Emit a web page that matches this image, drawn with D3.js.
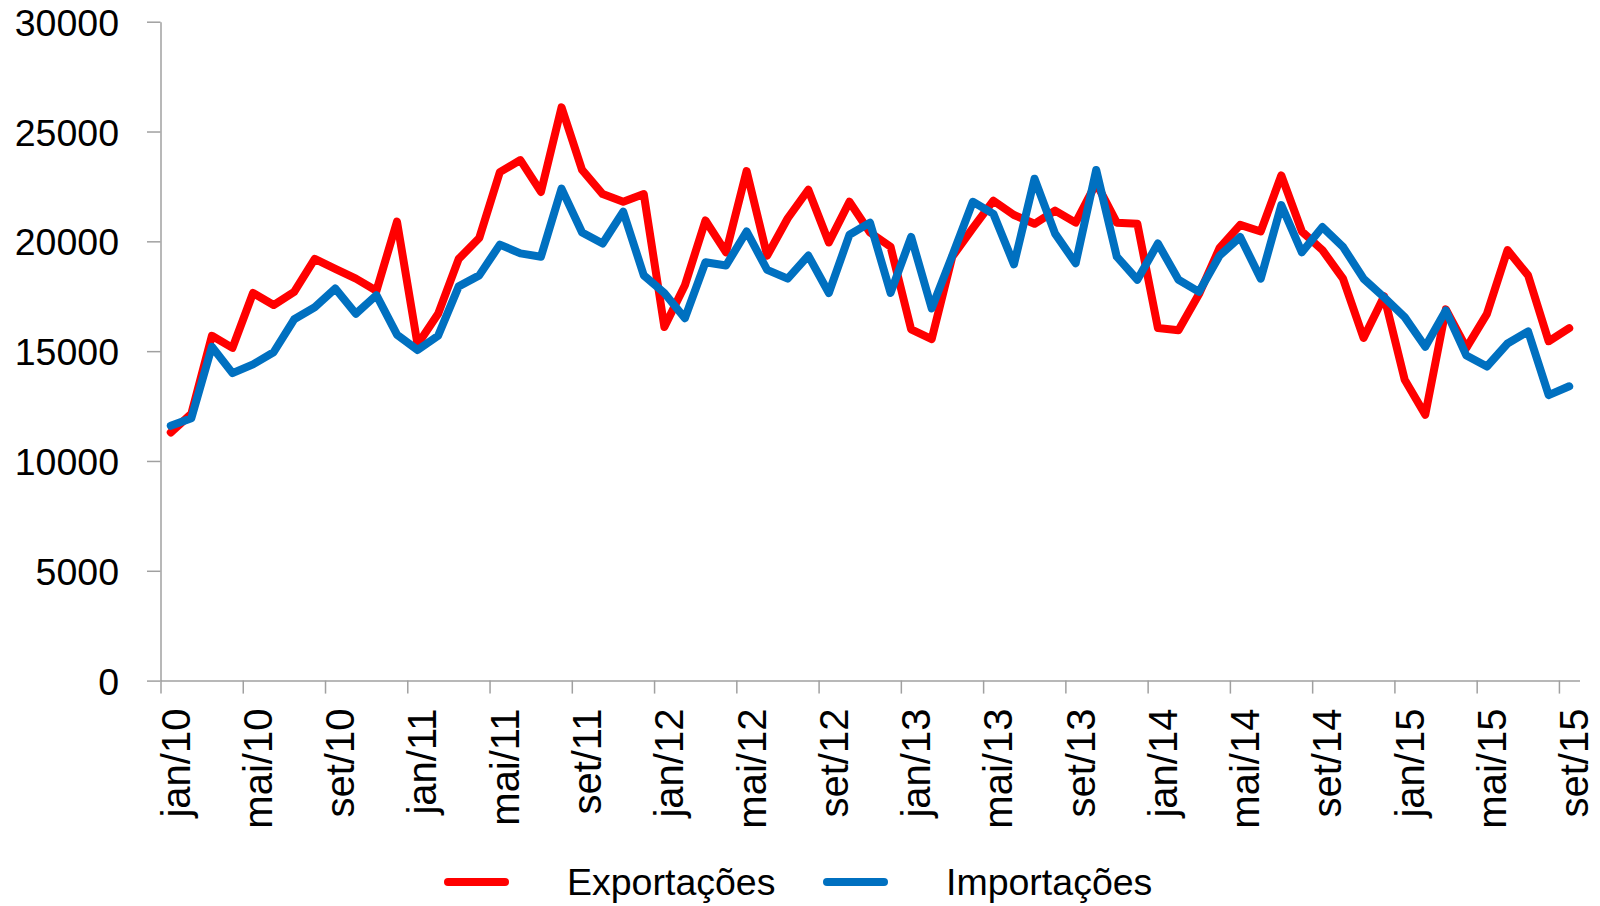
<!DOCTYPE html>
<html>
<head>
<meta charset="utf-8">
<script src="https://cdn.jsdelivr.net/npm/d3@7"></script>
<style>
    body { margin: 0; background: #fff; }
    .axis path, .axis line { stroke: #a0a0a0; stroke-width: 1.5px; }
    .axis text { fill: #000; font-family: "Liberation Sans", Arial, sans-serif; }
    .legend text { font-family: "Liberation Sans", Arial, sans-serif; font-size: 37.5px; fill: #000; }
</style>
</head>
<body>
<div class="lineChart"></div>
<script>
var monthNames = ["jan", "fev", "mar", "abr", "mai", "jun", "jul", "ago", "set", "out", "nov", "dez"];
var years = ["10", "11", "12", "13", "14", "15"];
var monthCount = 69;

var exportacoes = [
    11300, 12150, 15700, 15150, 17650, 17100, 17700, 19200, 18750, 18300, 17750, 20900,
    15300, 16700, 19200, 20150, 23150, 23700, 22250, 26100, 23250, 22150, 21800, 22150,
    16100, 18000, 20950, 19500, 23200, 19350, 21050, 22350, 19950, 21800, 20400, 19750,
    15990, 15550, 19300, 20600, 21850, 21200, 20800, 21400, 20850, 22650, 20850, 20800,
    16050, 15950, 17600, 19700, 20750, 20450, 23000, 20450, 19600, 18300, 15600, 17500,
    13700, 12100, 16900, 15150, 16700, 19600, 18450, 15450, 16050
];
var importacoes = [
    11600, 11950, 15200, 14000, 14400, 14950, 16450, 17000, 17850, 16700, 17550, 15750,
    15050, 15700, 17950, 18450, 19850, 19450, 19300, 22400, 20400, 19900, 21350, 18450,
    17650, 16500, 19050, 18900, 20450, 18700, 18300, 19350, 17650, 20300, 20850, 17650,
    20200, 16950, 19350, 21800, 21250, 18950, 22850, 20350, 19000, 23250, 19300, 18250,
    19900, 18250, 17700, 19350, 20200, 18300, 21650, 19500, 20650, 19750, 18300, 17450,
    16550, 15200, 16850, 14800, 14300, 15350, 15900, 13000, 13400
];
var yTicks = [0, 5000, 10000, 15000, 20000, 25000, 30000];

function lineChart() {

    var categories = [];
    for (var k = 0; k < monthCount; k++) {
        categories.push(monthNames[k % 12] + "/" + years[Math.floor(k / 12)]);
    }

    var series = [
        { name: "Exportações", values: exportacoes, color: "#ff0000" },
        { name: "Importações", values: importacoes, color: "#0070c0" }
    ];

    var width = 1600, height = 906;
    var plotLeft = 160.5, plotRight = 1579.5, plotTop = 21.7, plotBottom = 680.6;

    var svg = d3.select(".lineChart").append("svg")
        .attr("width", width)
        .attr("height", height);

    // index scale: month k spans [k, k+1], points sit in the middle
    var x = d3.scaleLinear().domain([0, monthCount]).range([plotLeft, plotRight]);
    var y = d3.scaleLinear().domain([0, 30000]).range([plotBottom, plotTop]);
    var half = (x(1) - x(0)) / 2;

    svg.append("g")
        .attr("class", "y axis")
        .attr("transform", "translate(" + plotLeft + ",0)")
        .call(d3.axisLeft(y).tickValues(yTicks).tickSize(13.5).tickSizeOuter(0).tickPadding(28)
            .tickFormat(d3.format("d")))
        .selectAll("text")
        .style("font-size", "37.5px")
        .attr("dy", "0.36em");

    var xAxis = svg.append("g")
        .attr("class", "x axis")
        .attr("transform", "translate(0," + plotBottom + ")")
        .call(d3.axisBottom(x)
            .tickValues(d3.range(0, monthCount, 4))
            .tickSize(13)
            .tickSizeOuter(0)
            .tickFormat(function (d) { return categories[d]; }));

    xAxis.selectAll("text")
        .style("font-size", "40px")
        .attr("text-anchor", "end")
        .attr("transform", "translate(" + half + ",28) rotate(-90)")
        .attr("x", 0)
        .attr("y", 0)
        .attr("dy", "0.46em");

    var line = d3.line()
        .x(function (d, i) { return x(i) + half; })
        .y(function (d) { return y(d); });

    svg.selectAll(".serie")
        .data(series)
        .enter().append("path")
        .attr("class", "serie")
        .attr("fill", "none")
        .attr("stroke", function (d) { return d.color; })
        .attr("stroke-width", 8)
        .attr("stroke-linejoin", "round")
        .attr("stroke-linecap", "round")
        .attr("d", function (d) { return line(d.values); });

    var legendX = [448, 827];
    var legend = svg.selectAll(".legend")
        .data(series)
        .enter().append("g")
        .attr("class", "legend")
        .attr("transform", function (d, i) { return "translate(" + legendX[i] + ",882)"; });

    legend.append("line")
        .attr("x1", 0).attr("x2", 57)
        .attr("y1", 0).attr("y2", 0)
        .attr("stroke", function (d) { return d.color; })
        .attr("stroke-width", 8)
        .attr("stroke-linecap", "round");

    legend.append("text")
        .attr("x", 119)
        .attr("y", 13)
        .text(function (d) { return d.name; });
}

lineChart();
</script>
</body>
</html>
